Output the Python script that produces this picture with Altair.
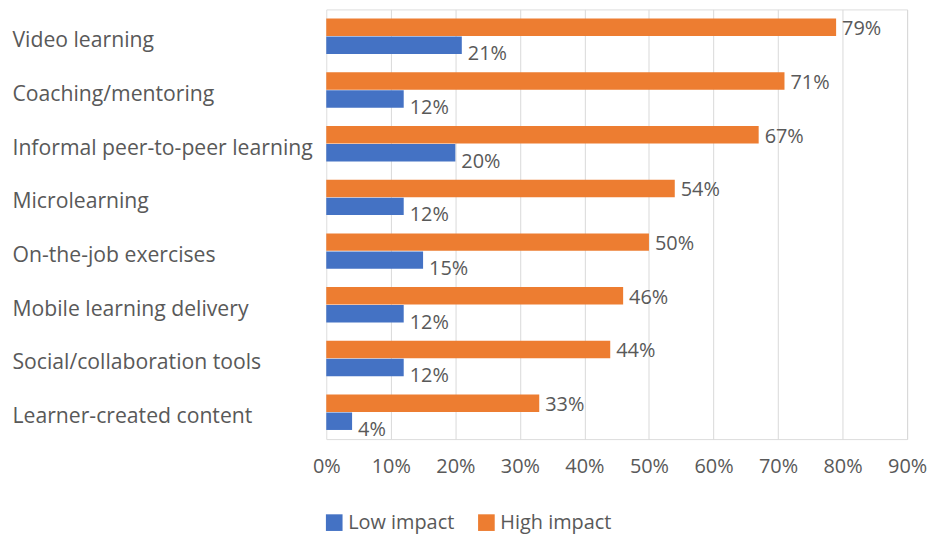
import altair as alt
import pandas as pd

categories = ["Video learning", "Coaching/mentoring", "Informal peer-to-peer learning",
              "Microlearning", "On-the-job exercises", "Mobile learning delivery",
              "Social/collaboration tools", "Learner-created content"]
high_impact = [79, 71, 67, 54, 50, 46, 44, 33]
low_impact = [21, 12, 20, 12, 15, 12, 12, 4]
series = ["Low impact", "High impact"]
colors = ["#4472C4", "#ED7D31"]

rows = []
for c, h, l in zip(categories, high_impact, low_impact):
    rows.append({"cat": c, "series": "High impact", "v": h / 100})
    rows.append({"cat": c, "series": "Low impact", "v": l / 100})
df = pd.DataFrame(rows)

FONT = "Open Sans"
GRAY = "#595959"
FS = 20

y_enc = alt.Y("cat:N", sort=categories, title=None,
              scale=alt.Scale(paddingInner=0.34, paddingOuter=0.17),
              axis=alt.Axis(labelAlign="left", labelPadding=316, ticks=False, domain=False,
                            labelFont=FONT, labelFontSize=21.3, labelColor=GRAY,
                            labelOffset=5, labelLimit=400))
yoff = alt.YOffset("series:N", sort=["High impact", "Low impact"],
                   scale=alt.Scale(paddingInner=0.03))

base = alt.Chart(df)

bars = base.mark_bar().encode(
    x=alt.X("v:Q", title=None,
            scale=alt.Scale(domain=[0, 0.9], nice=False),
            axis=alt.Axis(format=".0%", values=[i / 10 for i in range(10)], ticks=False,
                          domain=False, grid=True,
                          gridColor=alt.condition(alt.datum.value == 0,
                                                  alt.value("transparent"),
                                                  alt.value("#d9d9d9")),
                          labelFont=FONT, labelFontSize=FS, labelColor=GRAY,
                          labelPadding=18, labelFlush=False)),
    y=y_enc,
    yOffset=yoff,
    color=alt.Color("series:N", scale=alt.Scale(domain=series, range=colors),
                    legend=alt.Legend(title=None, orient="none", legendX=-2, legendY=506,
                                      direction="horizontal", symbolType="square",
                                      symbolSize=280, symbolStrokeWidth=0,
                                      labelFont=FONT, labelFontSize=FS, labelColor=GRAY,
                                      columnPadding=22, labelOffset=4)),
)

txt_high = base.transform_filter(alt.datum.series == "High impact").mark_text(
    align="left", dx=6, dy=2, font=FONT, fontSize=FS, color=GRAY
).encode(x="v:Q", y=alt.Y("cat:N", sort=categories), yOffset=yoff,
         text=alt.Text("v:Q", format=".0%"))

txt_low = base.transform_filter(alt.datum.series == "Low impact").mark_text(
    align="left", dx=6, dy=9, font=FONT, fontSize=FS, color=GRAY
).encode(x="v:Q", y=alt.Y("cat:N", sort=categories), yOffset=yoff,
         text=alt.Text("v:Q", format=".0%"))

chart = alt.layer(bars, txt_high, txt_low).properties(
    width=584, height=432,
    padding={"left": 4, "top": 0, "right": 0, "bottom": 0},
).configure_view(stroke=None).configure(background="white")

chart.save("out.html", embed_options={"renderer": "svg", "actions": False})
